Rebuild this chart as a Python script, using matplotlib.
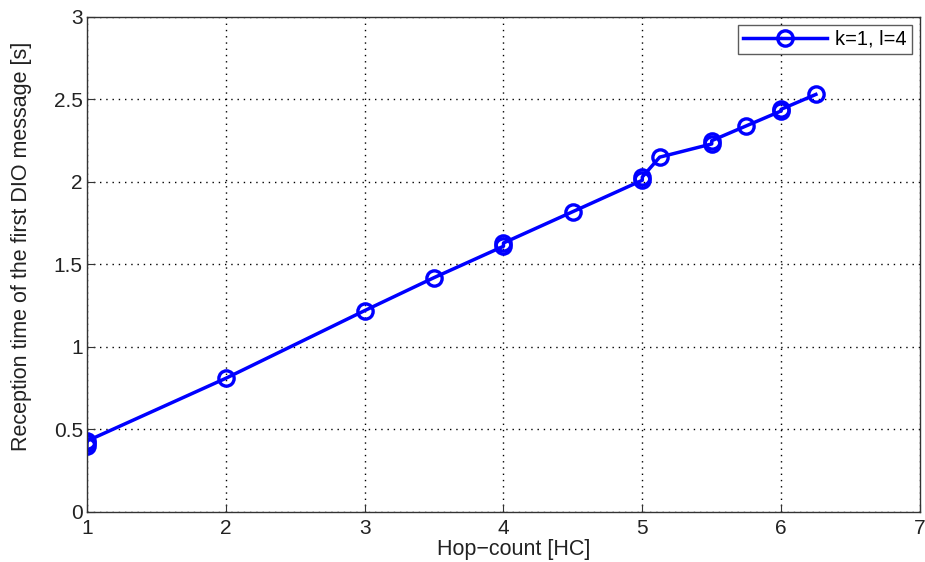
import matplotlib
matplotlib.use("Agg")
import matplotlib.pyplot as plt

hop_count = [1.0, 1.0, 1.0, 2.0, 3.0, 3.5, 4.0, 4.0, 4.5, 5.0, 5.0, 5.125, 5.5, 5.5, 5.75, 6.0, 6.0, 6.25]
reception = [0.40, 0.42, 0.43, 0.81, 1.22, 1.42, 1.61, 1.63, 1.82, 2.01, 2.03, 2.15, 2.23, 2.25, 2.34, 2.43, 2.44, 2.53]
series_label = "k=1, l=4"
xticks = [1, 2, 3, 4, 5, 6, 7]
yticks = [0, 0.5, 1, 1.5, 2, 2.5, 3]
ytick_labels = ["0", "0.5", "1", "1.5", "2", "2.5", "3"]

plt.rcParams['font.family'] = ['Liberation Sans', 'DejaVu Sans']

fig = plt.figure(figsize=(9.25, 5.62), dpi=100)
ax = fig.add_axes([0.094, 0.089, 0.9006, 0.881])

ax.plot(hop_count, reception, color='#0000ff', lw=2.5, marker='o', markersize=11,
        markerfacecolor='none', markeredgewidth=2.4, label=series_label)

ax.set_xlim(1, 7)
ax.set_ylim(0, 3)
ax.set_xticks(xticks)
ax.set_yticks(yticks)
ax.set_yticklabels(ytick_labels)
ax.grid(True, color='black', linestyle=(0, (1, 3.5)), linewidth=1.0)
ax.tick_params(direction='in', length=6, labelsize=15, colors='#333333', labelcolor='#222222')
ax.tick_params(axis='x', pad=5)
ax.tick_params(axis='y', pad=3)
for s in ax.spines.values():
    s.set_color('#333333')
    s.set_linewidth(1.0)

ax.set_xlabel("Hop\u2212count [HC]", fontsize=15.5, color='#222222')
ax.xaxis.set_label_coords(0.512, -0.054)
ax.set_ylabel("Reception time of the first DIO message [s]", fontsize=15.5, color='#222222')
ax.yaxis.set_label_coords(-0.066, 0.537)

leg = ax.legend(loc='upper right', fontsize=14.5, frameon=True, fancybox=False,
                edgecolor='#333333', borderaxespad=0.4, handlelength=4.2, borderpad=0.25,
                handletextpad=0.4)
leg.get_frame().set_linewidth(1.0)

fig.savefig("out.png", dpi=100)
